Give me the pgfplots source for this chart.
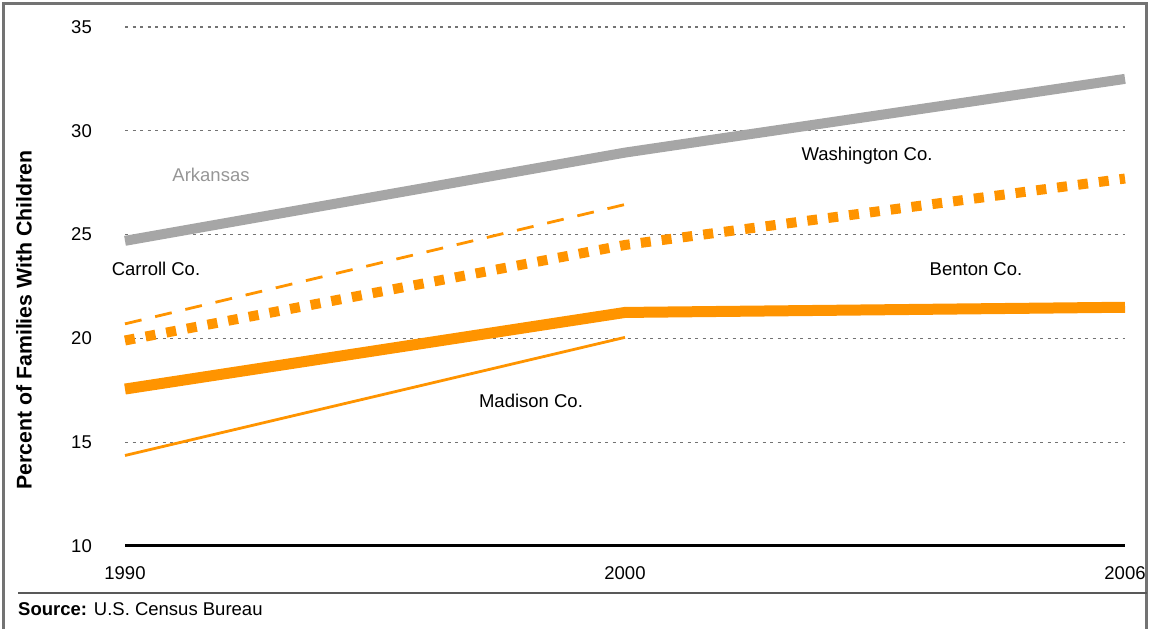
\documentclass[border=0pt]{standalone}
\usepackage{fontspec}
\setmainfont{Liberation Sans}
\usepackage{pgfplots}
\pgfplotsset{compat=1.18}
\definecolor{org}{RGB}{255,148,0}
\definecolor{ark}{RGB}{166,166,166}
\definecolor{arktxt}{RGB}{150,150,150}
\begin{document}
\fontsize{18.5}{22}\selectfont
\begin{tikzpicture}[x=1pt,y=1pt]
\useasboundingbox (0,0) rectangle (1149,629);
\draw[line width=2.5pt, color=black!55] (3.5,0) -- (3.5,625.5) -- (1146.5,625.5) -- (1146.5,0);
\draw[line width=1.5pt, color=black!65] (18,36) -- (1146.5,36);
\node[anchor=west, inner sep=0] at (18,20) {\textbf{Source:} U.S. Census Bureau};
\node[rotate=90, inner sep=0, font=\bfseries\fontsize{21.3}{25}\selectfont] at (24,309) {Percent of Families With Children};
\begin{axis}[
  at={(125pt,83pt)}, anchor=south west,
  scale only axis, width=1000pt, height=519pt,
  xmin=0, xmax=2, ymin=10, ymax=35,
  axis x line*=bottom, axis y line*=left,
  y axis line style={draw=none},
  x axis line style={line width=3pt, black, -},
  major tick length=0pt,
  xtick={0,1,2}, xticklabels={1990,2000,2006},
  ytick={10,15,20,25,30,35},
  /pgf/number format/assume math mode=true,
  yticklabel style={inner sep=0pt, anchor=east, xshift=-33pt},
  xticklabel style={inner sep=0pt, anchor=north, yshift=-20pt},
  ymajorgrids,
  grid style={dash pattern=on 3pt off 4.5pt, black!55, line width=1.2pt},
  clip=false,
]
\addplot[ark, line width=10pt] coordinates {(0,24.7) (1,28.95) (2,32.5)};
\addplot[org, line width=10pt, dash pattern=on 10pt off 11pt] coordinates {(0,19.9) (1,24.5) (2,27.7)};
\addplot[org, line width=11pt] coordinates {(0,17.56) (1,21.25) (2,21.5)};
\addplot[org, line width=2.8pt, dash pattern=on 17pt off 14pt] coordinates {(0,20.7) (1,26.45)};
\addplot[org, line width=2.8pt] coordinates {(0,14.36) (1,20.05)};
\node[text=arktxt] at (axis cs:0.172,27.87) {Arkansas};
\node at (axis cs:0.062,23.34) {Carroll Co.};
\node at (axis cs:1.484,28.79) {Washington Co.};
\node at (axis cs:1.702,23.34) {Benton Co.};
\node at (axis cs:0.812,16.98) {Madison Co.};
\end{axis}
\end{tikzpicture}
\end{document}
